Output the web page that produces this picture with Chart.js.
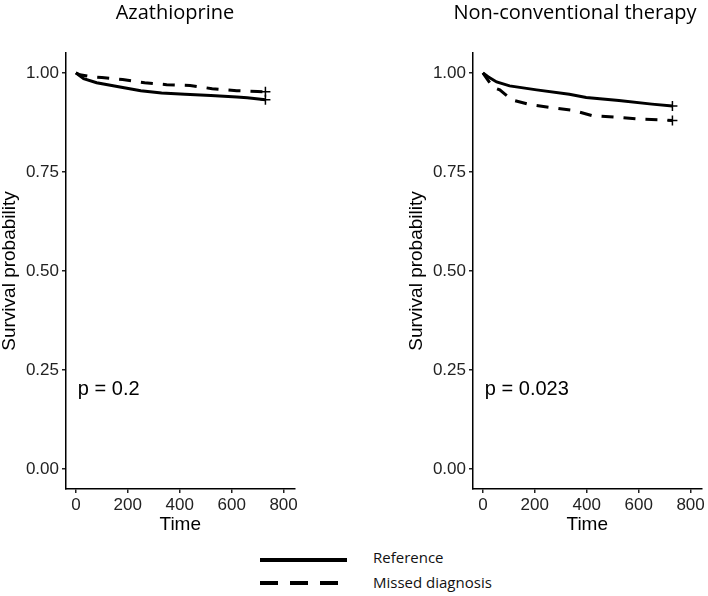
<!DOCTYPE html>
<html>
<head>
<meta charset="utf-8">
<script src="https://cdn.jsdelivr.net/npm/chart.js@4.4.0/dist/chart.umd.min.js"></script>
<style>
  body { margin: 0; background: #fff; width: 708px; height: 596px; position: relative; overflow: hidden; }
  canvas { position: absolute; top: 0; }
  #leftChart { left: 0; }
  #rightChart { left: 407px; }
  .key { position: absolute; left: 260px; }
  .label { position: absolute; left: 373px; font-family: "Open Sans", sans-serif; font-size: 15px; color: #111; line-height: 20px; white-space: nowrap; }
</style>
</head>
<body>
<canvas id="leftChart" width="301" height="540"></canvas>
<canvas id="rightChart" width="301" height="540"></canvas>

<svg class="key" style="top:556px" width="90" height="8"><line x1="0" y1="4" x2="87" y2="4" stroke="#000" stroke-width="4"/></svg>
<div class="label" style="top:547px">Reference</div>
<svg class="key" style="top:579px" width="90" height="8"><line x1="0" y1="4" x2="80" y2="4" stroke="#000" stroke-width="4" stroke-dasharray="18 12"/></svg>
<div class="label" style="top:572px">Missed diagnosis</div>

<script>
// 数据
const xTicks = [0, 200, 400, 600, 800];
const yTicks = [0, 0.25, 0.5, 0.75, 1];

// Azathioprine
const timesAzaRef = [0, 10, 30, 80, 170, 250, 330, 420, 520, 620, 660, 730];
const survAzaRef = [1.0, 0.995, 0.985, 0.975, 0.964, 0.955, 0.949, 0.946, 0.943, 0.939, 0.937, 0.932];
const timesAzaMiss = [0, 15, 60, 100, 180, 265, 350, 440, 525, 620, 700, 730];
const survAzaMiss = [1.0, 0.995, 0.990, 0.988, 0.983, 0.975, 0.970, 0.968, 0.960, 0.955, 0.953, 0.952];

// Non-conventional therapy
const timesNctRef = [0, 20, 53, 103, 207, 333, 398, 524, 651, 730];
const survNctRef = [1.0, 0.990, 0.977, 0.967, 0.957, 0.946, 0.938, 0.930, 0.921, 0.916];
const timesNctMiss = [0, 38, 65, 111, 180, 268, 348, 421, 513, 608, 700, 730];
const survNctMiss = [1.0, 0.964, 0.957, 0.932, 0.920, 0.912, 0.905, 0.892, 0.888, 0.883, 0.881, 0.880];

const tickFont = { family: 'Liberation Sans', size: 17 };
const axisTitleFont = { family: 'Liberation Sans', size: 19, lineHeight: 1 };

// 面板标题
const panelTitle = {
    id: 'panelTitle',
    afterDraw(chart, args, opts) {
        const ctx = chart.ctx;
        ctx.save();
        ctx.font = '20px "Open Sans"';
        ctx.fillStyle = '#000';
        ctx.textAlign = 'center';
        ctx.textBaseline = 'alphabetic';
        ctx.fillText(opts.text, opts.x, 19);
        ctx.restore();
    }
};

// p 值标注
const pLabel = {
    id: 'pLabel',
    afterDraw(chart, args, opts) {
        const ctx = chart.ctx;
        const x = chart.scales.x.getPixelForValue(0) + 2;
        const y = chart.scales.y.getPixelForValue(0.2);
        ctx.save();
        ctx.font = '20px "Liberation Sans"';
        ctx.fillStyle = '#000';
        ctx.textAlign = 'left';
        ctx.textBaseline = 'middle';
        ctx.fillText(opts.text, x, y);
        ctx.restore();
    }
};

function toPoints(times, surv) {
    return times.map((t, i) => ({ x: t, y: surv[i] }));
}

function censorRadius(ctx) {
    return ctx.dataIndex === ctx.dataset.data.length - 1 ? 5 : 0;
}

function makeChart(id, title, titleX, pText, refT, refS, missT, missS) {
    new Chart(document.getElementById(id).getContext('2d'), {
        type: 'line',
        data: {
            datasets: [
                {
                    label: 'Reference',
                    data: toPoints(refT, refS),
                    borderColor: '#000',
                    borderWidth: 3,
                    pointStyle: 'cross',
                    pointRadius: censorRadius,
                    pointBorderWidth: 1.5,
                    pointBorderColor: '#000',
                    tension: 0
                },
                {
                    label: 'Missed diagnosis',
                    data: toPoints(missT, missS),
                    borderColor: '#000',
                    borderWidth: 3,
                    borderDash: [12, 10],
                    pointStyle: 'cross',
                    pointRadius: censorRadius,
                    pointBorderWidth: 1.5,
                    pointBorderColor: '#000',
                    tension: 0
                }
            ]
        },
        options: {
            responsive: false,
            animation: false,
            layout: { padding: { top: 53, right: 6, left: 0, bottom: 0 } },
            plugins: {
                legend: { display: false },
                tooltip: { enabled: false },
                panelTitle: { text: title, x: titleX },
                pLabel: { text: pText }
            },
            scales: {
                x: {
                    type: 'linear',
                    min: -38,
                    max: 842,
                    afterBuildTicks: s => { s.ticks = xTicks.map(v => ({ value: v })); },
                    afterFit: s => { s.height = 51; },
                    grid: { drawOnChartArea: false, color: '#222', tickLength: 4, lineWidth: 1.5 },
                    border: { color: '#000', width: 1.5 },
                    ticks: { color: '#222', font: tickFont, padding: 2, maxRotation: 0, autoSkip: false },
                    title: { display: true, text: 'Time', color: '#000', font: axisTitleFont, padding: { top: 0, bottom: 6 } }
                },
                y: {
                    min: -0.05,
                    max: 1.05,
                    afterBuildTicks: s => { s.ticks = yTicks.map(v => ({ value: v })); },
                    afterFit: s => { s.width = 66; },
                    grid: { drawOnChartArea: false, color: '#222', tickLength: 4, lineWidth: 1.5 },
                    border: { color: '#000', width: 1.5 },
                    ticks: { color: '#222', font: tickFont, padding: 3, callback: v => v.toFixed(2) },
                    title: { display: true, text: 'Survival probability', color: '#000', font: axisTitleFont, padding: { top: 0, bottom: 0 } }
                }
            }
        },
        plugins: [panelTitle, pLabel]
    });
}

makeChart('leftChart', 'Azathioprine', 175, 'p = 0.2', timesAzaRef, survAzaRef, timesAzaMiss, survAzaMiss);
makeChart('rightChart', 'Non-conventional therapy', 168, 'p = 0.023', timesNctRef, survNctRef, timesNctMiss, survNctMiss);
</script>
</body>
</html>
